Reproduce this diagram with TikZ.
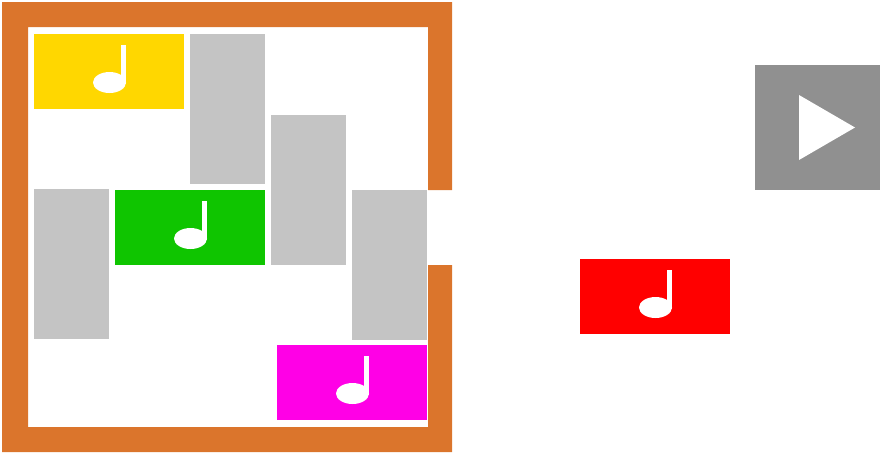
\documentclass[tikz,border=0pt]{standalone}
\definecolor{wallc}{HTML}{DB752C}
\definecolor{blockgray}{HTML}{C4C4C4}
\definecolor{playgray}{HTML}{909090}
\definecolor{yellowc}{HTML}{FFD700}
\definecolor{greenc}{HTML}{0FC500}
\definecolor{magentac}{HTML}{FF00E6}
\definecolor{redc}{HTML}{FF0000}
\tikzset{
  wall/.style={fill=wallc,draw=none},
  obstacle/.style={fill=blockgray,draw=none},
  tune/.style={draw=none},
  noteink/.style={fill=white,draw=none},
  music/.pic={
    \fill[noteink] (0,0) ellipse[x radius=16.5,y radius=10.5];
    \fill[noteink] (11.5,-37.5) rectangle (16.5,1);
  }
}
\begin{document}
\begin{tikzpicture}[x=1pt,y=-1pt]
\useasboundingbox (0,0) rectangle (883,456);
% walls
\fill[wall] (2,2) -- (452,2) -- (452,190) -- (428,190) -- (428,27) -- (28,27) -- (28,427) -- (428,427) -- (428,265) -- (452,265) -- (452,452) -- (2,452) -- cycle;
% grey blocks
\fill[obstacle] (190,34) rectangle (265,184);
\fill[obstacle] (271,115) rectangle (346,265);
\fill[obstacle] (34,189) rectangle (109,339);
\fill[obstacle] (352,190) rectangle (427,340);
% coloured blocks
\fill[tune,fill=yellowc] (34,34) rectangle (184,109);
\pic at (109.5,82.5) {music};
\fill[tune,fill=greenc] (115,190) rectangle (265,265);
\pic at (190.5,238.5) {music};
\fill[tune,fill=magentac] (277,345) rectangle (427,420);
\pic at (352.5,393.5) {music};
\fill[tune,fill=redc] (580,259) rectangle (730,334);
\pic at (655.5,307.5) {music};
% play button
\fill[playgray] (755,65) rectangle (880,190);
\fill[noteink] (799,95) -- (855,127.5) -- (799,160) -- cycle;
\end{tikzpicture}
\end{document}
